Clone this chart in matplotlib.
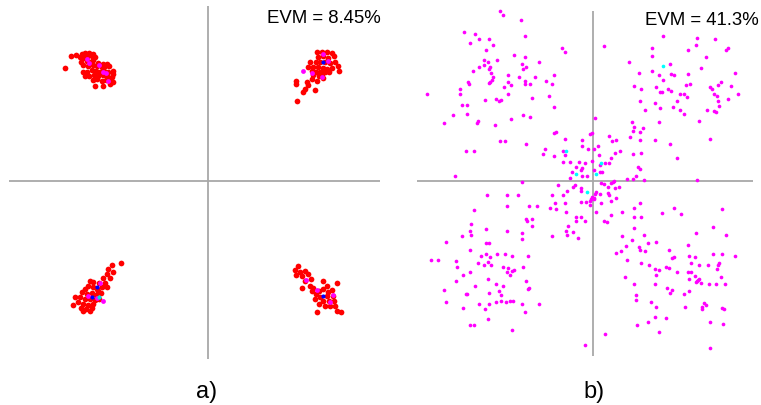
import numpy as np
import matplotlib
matplotlib.use("Agg")
import matplotlib.pyplot as plt

plt.rcParams['font.family'] = ['Liberation Sans', 'DejaVu Sans']

# ---------------- constellation a) : QPSK, low EVM (I, Q in a.u.) ----------------
a_red_q2 = [(-431, 339), (-413, 375), (-397, 377), (-380, 380), (-370, 383), (-357, 383), (-347, 380),
            (-385, 370), (-375, 367), (-363, 370), (-350, 373), (-340, 370), (-383, 357), (-365, 360),
            (-355, 357), (-345, 363), (-330, 353), (-317, 350), (-305, 350), (-375, 347), (-360, 345),
            (-347, 347), (-335, 343), (-320, 340), (-310, 345), (-297, 343), (-287, 330), (-377, 325),
            (-363, 327), (-350, 333), (-337, 330), (-325, 327), (-313, 330), (-300, 325), (-285, 320),
            (-370, 315), (-357, 313), (-343, 317), (-330, 315), (-315, 317), (-303, 313), (-290, 310),
            (-345, 303), (-333, 305), (-320, 300), (-307, 303), (-295, 305), (-285, 295), (-340, 285),
            (-315, 283), (-295, 290)]
a_red_q1 = [(265, 240), (263, 300), (263, 290), (285, 265), (290, 275), (295, 295), (300, 287),
            (320, 273), (310, 305), (315, 317), (305, 355), (323, 325), (333, 315), (343, 307),
            (327, 385), (340, 385), (355, 385), (370, 383), (377, 373), (330, 370), (345, 375),
            (360, 367), (323, 355), (335, 357), (350, 355), (365, 353), (380, 355), (390, 345),
            (393, 330), (315, 340), (330, 340), (343, 337), (355, 335), (370, 337), (300, 340),
            (310, 330), (335, 327), (350, 325), (363, 325), (325, 300), (340, 320)]
a_red_q3 = [(-262, -248), (-290, -252), (-300, -265), (-287, -275), (-305, -280), (-295, -292),
            (-317, -292), (-310, -308), (-327, -308), (-355, -300), (-360, -315), (-345, -320),
            (-333, -325), (-320, -320), (-305, -318), (-370, -325), (-380, -335), (-365, -340),
            (-350, -338), (-337, -342), (-323, -338), (-400, -350), (-385, -348), (-370, -355),
            (-355, -355), (-340, -358), (-327, -355), (-405, -372), (-390, -365), (-375, -370),
            (-360, -372), (-345, -370), (-383, -382), (-367, -385), (-350, -382), (-330, -330),
            (-345, -305), (-375, -392), (-355, -390)]
a_red_q4 = [(270, -257), (260, -267), (275, -273), (290, -270), (263, -283), (280, -285), (300, -280),
            (307, -295), (290, -300), (280, -323), (305, -315), (315, -323), (343, -300), (333, -330),
            (323, -340), (345, -325), (355, -315), (360, -335), (370, -327), (387, -307), (375, -345),
            (355, -347), (335, -350), (320, -355), (343, -360), (363, -360), (377, -360), (350, -375),
            (333, -370), (365, -377), (380, -377), (325, -393), (385, -390), (397, -393), (310, -330)]
a_magenta = [(-363, 365), (-357, 353), (-327, 347), (-315, 325), (-307, 322), (-300, 300),
             (285, 330), (310, 322), (340, 310), (345, 380), (360, 360),
             (-360, -345), (-325, -308), (-335, -352), (-317, -360),
             (293, -297), (327, -327), (365, -365), (375, -343)]
a_blue = [(345, 355), (-335, -320), (-350, -350), (343, -345)]
a_cyan = [(-327, -348)]

# ---------------- constellation b) : high EVM (I, Q in a.u.) ----------------
b_q2 = [(-278, 508), (-269, 496), (-215, 481), (-385, 445), (-352, 439), (-340, 426), (-311, 426),
        (-204, 434), (-368, 414), (-298, 406), (-319, 393), (-92, 398), (-84, 385), (-237, 377),
        (-204, 372), (-327, 362), (-315, 356), (-286, 362), (-162, 357), (-213, 351), (-327, 348),
        (-340, 342), (-308, 341), (-199, 342), (-208, 336), (-311, 336), (-360, 328), (-306, 323),
        (-253, 316), (-117, 316), (-174, 311), (-220, 310), (-298, 310), (-302, 302), (-204, 300),
        (-141, 300), (-374, 295), (-307, 295), (-311, 292), (-253, 295), (-370, 290), (-244, 287),
        (-204, 290), (-187, 290), (-121, 290), (-266, 280), (-398, 275), (-398, 261), (-496, 259),
        (-253, 261), (-130, 255), (-183, 249), (-291, 246), (-323, 241), (-275, 241), (-282, 238),
        (-393, 226), (-378, 226), (-117, 221), (-418, 198), (-378, 200), (-208, 198), (-187, 192),
        (-244, 184), (-343, 179), (-348, 172), (-447, 172), (-294, 166), (-116, 142), (-109, 145),
        (-9, 139), (-3, 143), (-84, 124), (-277, 118), (-262, 118), (-199, 110), (-31, 122),
        (-31, 104), (-14, 94), (-381, 90), (-356, 90), (-142, 96), (-150, 81), (-88, 88), (-84, 76),
        (-117, 73), (-67, 56), (-88, 55), (-42, 56), (-22, 53), (-3, 58), (-51, 41), (-31, 38),
        (-34, 32), (-63, 27), (-32, 14), (-17, 14), (-68, 7), (-414, 14)]
b_q1 = [(211, 434), (314, 427), (368, 424), (34, 403), (310, 406), (178, 399), (286, 391), (406, 398),
        (401, 393), (178, 373), (340, 370), (109, 357), (232, 350), (324, 337), (178, 329), (138, 323),
        (199, 316), (235, 321), (243, 316), (286, 321), (426, 323), (212, 303), (293, 290), (281, 286),
        (384, 295), (376, 288), (125, 283), (191, 280), (227, 275), (235, 268), (145, 275), (351, 280),
        (359, 275), (414, 283), (203, 265), (207, 265), (261, 259), (274, 261), (364, 261), (435, 261),
        (374, 255), (282, 250), (141, 240), (188, 233), (253, 238), (376, 238), (406, 246), (241, 221),
        (378, 225), (203, 218), (261, 211), (343, 212), (158, 211), (364, 208), (370, 206), (274, 199),
        (8, 188), (117, 177), (199, 176), (319, 179), (125, 161), (150, 158), (120, 148), (142, 145),
        (50, 135), (113, 130), (71, 122), (58, 118), (141, 122), (186, 122), (351, 124), (232, 110),
        (17, 103), (4, 96), (83, 90), (67, 84), (120, 81), (145, 84), (19, 76), (54, 68), (253, 68),
        (36, 53), (50, 53), (21, 46), (136, 41), (141, 34), (3, 33), (29, 26), (21, 26), (130, 14),
        (104, 6), (120, 6), (154, 1), (65, 0), (314, 1)]
b_q3 = [(-212, -5), (-104, -13), (-58, -18), (-54, -13), (-34, -21), (-34, -32), (-76, -32),
        (-316, -42), (-257, -42), (-224, -42), (-121, -42), (-88, -42), (-6, -56), (-9, -62),
        (-34, -63), (-20, -63), (-113, -68), (-84, -68), (-9, -73), (-257, -75), (-191, -75),
        (-166, -75), (-129, -81), (-109, -84), (-356, -89), (-79, -94), (-51, -109), (-34, -109),
        (-199, -114), (-183, -114), (-196, -121), (-51, -122), (-22, -122), (-365, -130), (-183, -137),
        (-74, -137), (-319, -146), (-368, -151), (-257, -151), (-79, -151), (-59, -155), (-212, -158),
        (-393, -166), (-364, -163), (-121, -166), (-76, -163), (-43, -171), (-212, -176), (-439, -183),
        (-319, -186), (-311, -186), (-368, -208), (-319, -220), (-286, -220), (-262, -220), (-307, -228),
        (-335, -225), (-241, -225), (-195, -225), (-484, -237), (-464, -237), (-410, -240), (-344, -248),
        (-315, -245), (-327, -254), (-306, -254), (-406, -259), (-270, -259), (-253, -262), (-208, -259),
        (-237, -269), (-241, -272), (-258, -275), (-368, -275), (-248, -282), (-389, -282), (-315, -294),
        (-410, -300), (-199, -300), (-291, -310), (-352, -316), (-270, -316), (-192, -321), (-195, -324),
        (-447, -328), (-282, -331), (-311, -337), (-381, -341), (-377, -341), (-274, -344), (-439, -364),
        (-291, -365), (-274, -362), (-261, -365), (-248, -362), (-240, -362), (-340, -370), (-311, -370),
        (-212, -370), (-162, -370), (-389, -382), (-323, -385), (-204, -393), (-315, -414), (-369, -432),
        (-356, -432), (-241, -447), (-22, -493)]
b_q4 = [(25, -6), (34, -10), (56, -6), (62, -4), (47, -18), (67, -21), (80, -18), (9, -34), (7, -41),
        (21, -39), (46, -36), (50, -42), (-2, -50), (5, -51), (4, -56), (71, -53), (56, -61), (26, -68),
        (141, -68), (125, -81), (244, -81), (389, -84), (10, -93), (88, -93), (207, -96), (265, -101),
        (55, -102), (125, -109), (145, -109), (34, -122), (42, -125), (360, -138), (125, -143),
        (310, -158), (400, -163), (88, -166), (154, -163), (117, -179), (166, -187), (191, -183),
        (285, -192), (100, -197), (138, -199), (141, -207), (229, -207), (84, -212), (71, -217),
        (158, -212), (289, -225), (307, -228), (243, -228), (237, -233), (360, -220), (389, -220),
        (426, -225), (104, -238), (145, -246), (294, -246), (380, -246), (377, -253), (170, -254),
        (319, -254), (347, -254), (220, -259), (229, -262), (187, -266), (199, -268), (373, -266),
        (253, -275), (285, -275), (294, -275), (191, -283), (307, -287), (385, -290), (96, -288),
        (289, -295), (319, -296), (314, -302), (309, -304), (326, -307), (316, -299), (125, -311),
        (187, -311), (348, -311), (369, -311), (398, -311), (224, -323), (238, -329), (233, -336),
        (290, -331), (274, -341), (129, -344), (129, -358), (174, -363), (334, -366), (340, -372),
        (278, -378), (191, -378), (328, -378), (327, -384), (388, -382), (394, -385), (186, -410),
        (220, -413), (166, -425), (351, -424), (390, -431), (134, -434), (199, -455), (38, -460),
        (351, -501)]
b_cyan = [(-79, 88), (-51, 21), (212, 344), (25, 54), (9, 20), (-18, -34)]

evm_a = "8.45%"
evm_b = "41.3%"

W, H = 761, 406
fig = plt.figure(figsize=(W / 100, H / 100), dpi=100)


def box_axes(x0, y0, x1, y1):
    """Axes placed by a pixel box measured from the top-left corner."""
    ax = fig.add_axes([x0 / W, 1 - y1 / H, (x1 - x0) / W, (y1 - y0) / H])
    ax.axis('off')
    return ax


AXIS_GREY = '#a8a8a8'

ax_a = box_axes(9, 7, 380, 360)
ax_a.set_xlim(-598, 515)
ax_a.set_ylim(-535, 524)

ax_b = box_axes(417, 12, 753, 357)
ax_b.set_xlim(-527, 481)
ax_b.set_ylim(-526, 509)

for ax in (ax_a, ax_b):
    ax.axhline(0, color=AXIS_GREY, lw=1.3, zorder=0)
    ax.axvline(0, color=AXIS_GREY, lw=1.3, zorder=0)


def dots(ax, pts, color, size):
    p = np.asarray(pts, dtype=float)
    ax.scatter(p[:, 0], p[:, 1], s=size, c=color, linewidths=0, clip_on=False, zorder=2)


for cluster in (a_red_q1, a_red_q2, a_red_q3, a_red_q4):
    dots(ax_a, cluster, '#ff0000', 17)
dots(ax_a, a_magenta, '#ff00ff', 12)
dots(ax_a, a_cyan, '#00e0e0', 9)
dots(ax_a, a_blue, '#0000ff', 9)

for quad in (b_q1, b_q2, b_q3, b_q4):
    dots(ax_b, quad, '#ff00ff', 7)
dots(ax_b, b_cyan, '#00ffff', 7)

fig.text(381 / W, 1 - 22.7 / H, "EVM = " + evm_a, ha='right', va='baseline', fontsize=13.4)
fig.text(759 / W, 1 - 25 / H, "EVM = " + evm_b, ha='right', va='baseline', fontsize=13.4)
fig.text(207 / W, 1 - 398 / H, "a)", ha='center', va='baseline', fontsize=17)
fig.text(594 / W, 1 - 398 / H, "b)", ha='center', va='baseline', fontsize=17)

fig.savefig("out.png", dpi=100, facecolor='white')
